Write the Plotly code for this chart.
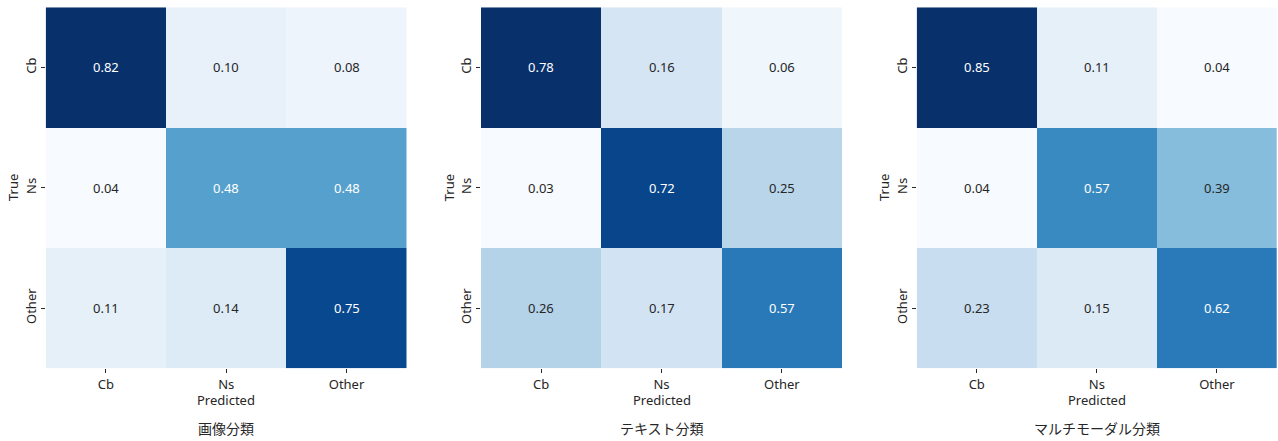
import plotly.graph_objects as go
from plotly.subplots import make_subplots
import plotly.colors as pc

labels = ["Cb", "Ns", "Other"]
titles = ["画像分類", "テキスト分類", "マルチモーダル分類"]
cm_image = [[0.82, 0.10, 0.08],
            [0.04, 0.48, 0.48],
            [0.11, 0.14, 0.75]]
cm_text = [[0.78, 0.16, 0.06],
           [0.03, 0.72, 0.25],
           [0.26, 0.17, 0.57]]
cm_multi = [[0.85, 0.11, 0.04],
            [0.04, 0.57, 0.39],
            [0.23, 0.15, 0.62]]
matrices = [cm_image, cm_text, cm_multi]

blues = ["#f7fbff", "#deebf7", "#c6dbef", "#9ecae1", "#6baed6",
         "#4292c6", "#2171b5", "#08519c", "#08306b"]
colorscale = [[i / (len(blues) - 1), c] for i, c in enumerate(blues)]

FONT = "Noto Sans, Noto Sans CJK JP, sans-serif"
DARK = "#262626"
W, H = 1278, 441


def color_at(t):
    t = min(max(t, 0.0), 1.0)
    n = len(blues) - 1
    i = min(int(t * n), n - 1)
    f = t * n - i
    a = pc.hex_to_rgb(blues[i])
    b = pc.hex_to_rgb(blues[i + 1])
    return [(a[k] + (b[k] - a[k]) * f) / 255.0 for k in range(3)]


def luminance(rgb):
    lin = [c / 12.92 if c <= 0.03928 else ((c + 0.055) / 1.055) ** 2.4 for c in rgb]
    return 0.2126 * lin[0] + 0.7152 * lin[1] + 0.0722 * lin[2]


xdoms = [(45.7, 406.7), (481.0, 842.0), (916.7, 1277.0)]
ytop, ybot = 7.3, 368.3

fig = make_subplots(rows=1, cols=3)
annotations = []
for idx, (m, title) in enumerate(zip(matrices, titles)):
    zmin = min(min(r) for r in m)
    zmax = max(max(r) for r in m)
    fig.add_trace(go.Heatmap(z=m, x=labels, y=labels, colorscale=colorscale,
                             zmin=zmin, zmax=zmax, showscale=False,
                             hoverinfo="skip"), row=1, col=idx + 1)
    xa = "x" if idx == 0 else f"x{idx + 1}"
    ya = "y" if idx == 0 else f"y{idx + 1}"
    for r, row in enumerate(m):
        for c, v in enumerate(row):
            t = (v - zmin) / (zmax - zmin)
            col = DARK if luminance(color_at(t)) > 0.408 else "white"
            annotations.append(dict(x=labels[c], y=labels[r], xref=xa, yref=ya,
                                    text=f"{v:.2f}", showarrow=False,
                                    font=dict(family=FONT, size=13, color=col)))
    x0, x1 = xdoms[idx]
    cx = (x0 + x1) / 2 / W
    common = dict(xref="paper", yref="paper", showarrow=False,
                  xanchor="center", yanchor="middle")
    annotations.append(dict(x=cx, y=(H - 399.5) / H, text="Predicted",
                            font=dict(family=FONT, size=13, color=DARK), **common))
    annotations.append(dict(x=cx, y=(H - 428) / H, text=title,
                            font=dict(family=FONT, size=14, color=DARK), **common))
    annotations.append(dict(x=(x0 - 32.5) / W, y=(H - (ytop + ybot) / 2) / H,
                            text="True", textangle=-90,
                            font=dict(family=FONT, size=13, color=DARK), **common))
    axkw = dict(showgrid=False, zeroline=False, showline=False, ticks="outside",
                ticklen=4, tickwidth=1, tickcolor=DARK,
                tickfont=dict(family=FONT, size=13, color=DARK))
    fig.update_xaxes(domain=[x0 / W, x1 / W], **axkw, row=1, col=idx + 1)
    fig.update_yaxes(domain=[(H - ybot) / H, (H - ytop) / H], autorange="reversed",
                     tickangle=-90, **axkw, row=1, col=idx + 1)

fig.update_layout(width=W, height=H, margin=dict(l=0, r=0, t=0, b=0),
                  paper_bgcolor="white", plot_bgcolor="white",
                  annotations=annotations, font=dict(family=FONT, color=DARK))
fig.write_html("out.html")
